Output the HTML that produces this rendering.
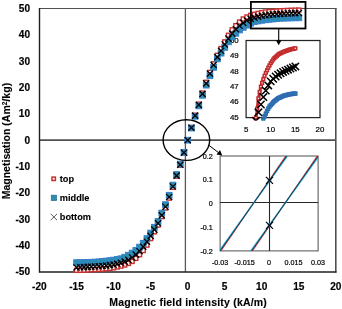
<!DOCTYPE html>
<html><head><meta charset="utf-8"><style>
html,body{margin:0;padding:0;background:#fff;width:342px;height:309px;overflow:hidden}
svg{display:block;will-change:transform}
</style></head><body>
<svg width="342" height="309" viewBox="0 0 342 309">
<rect width="342" height="309" fill="#fff"/>
<g shape-rendering="auto">
<line x1="39" y1="8.5" x2="336.5" y2="8.5" stroke="#505050" stroke-width="1.2"/>
<line x1="335.8" y1="8" x2="335.8" y2="272.5" stroke="#505050" stroke-width="1.6"/>
<line x1="185.4" y1="8" x2="185.4" y2="272" stroke="#5a5a5a" stroke-width="1.3"/>
<line x1="39" y1="140.2" x2="336" y2="140.2" stroke="#505050" stroke-width="1.7"/>
<line x1="39.5" y1="8" x2="39.5" y2="272.6" stroke="#202020" stroke-width="1.4"/>
<line x1="39" y1="271.9" x2="336.5" y2="271.9" stroke="#202020" stroke-width="1.5"/>
</g>
<g style="font-family:'Liberation Sans',sans-serif;font-weight:bold;font-size:10.1px" fill="#000" stroke="#000" stroke-width="0.18" text-anchor="end">
<text transform="translate(30.0,11.80) scale(1,1)">50</text>
<text transform="translate(30.0,38.15) scale(1,1)">40</text>
<text transform="translate(30.0,64.50) scale(1,1)">30</text>
<text transform="translate(30.0,90.85) scale(1,1)">20</text>
<text transform="translate(30.0,117.20) scale(1,1)">10</text>
<text transform="translate(30.0,143.55) scale(1,1)">0</text>
<text transform="translate(30.0,169.90) scale(1,1)">-10</text>
<text transform="translate(30.0,196.25) scale(1,1)">-20</text>
<text transform="translate(30.0,222.60) scale(1,1)">-30</text>
<text transform="translate(30.0,248.95) scale(1,1)">-40</text>
<text transform="translate(30.0,275.30) scale(1,1)">-50</text>
</g>
<g style="font-family:'Liberation Sans',sans-serif;font-weight:bold;font-size:10.1px" fill="#000" stroke="#000" stroke-width="0.18" text-anchor="middle">
<text transform="translate(39.40,289.7) scale(1,1)">-20</text>
<text transform="translate(76.45,289.7) scale(1,1)">-15</text>
<text transform="translate(113.50,289.7) scale(1,1)">-10</text>
<text transform="translate(150.55,289.7) scale(1,1)">-5</text>
<text transform="translate(187.60,289.7) scale(1,1)">0</text>
<text transform="translate(224.65,289.7) scale(1,1)">5</text>
<text transform="translate(261.70,289.7) scale(1,1)">10</text>
<text transform="translate(298.75,289.7) scale(1,1)">15</text>
<text transform="translate(335.80,289.7) scale(1,1)">20</text>
</g>
<text x="188.1" y="305.6" text-anchor="middle" style="font-family:'Liberation Sans',sans-serif;font-weight:bold;font-size:10.5px" stroke="#000" stroke-width="0.12" textLength="157.5" lengthAdjust="spacing">Magnetic field intensity (kA/m)</text>
<text transform="translate(10.4,141.1) rotate(-90)" text-anchor="middle" style="font-family:'Liberation Sans',sans-serif;font-weight:bold;font-size:10.5px" stroke="#000" stroke-width="0.12" textLength="116.5" lengthAdjust="spacing">Magnetisation (Am<tspan font-size="6.6px" dy="-3.6">2</tspan><tspan dy="3.6">/kg)</tspan></text>
<rect x="52.00" y="177.10" width="3.4" height="3.4" fill="#fff" stroke="#C8302F" stroke-width="1.5"/>
<rect x="51.30" y="195.20" width="5.2" height="5.2" fill="#2A8EB0" stroke="#2a7396" stroke-width="0.8"/>
<path d="M50.70 213.80L57.10 220.20M57.10 213.80L50.70 220.20" stroke="#333" stroke-width="0.8" fill="none"/>
<g style="font-family:'Liberation Sans',sans-serif;font-weight:bold;font-size:9.2px" fill="#000" stroke="#000" stroke-width="0.12">
<text x="59.8" y="181.8">top</text>
<text x="59.8" y="201">middle</text>
<text x="59.8" y="220">bottom</text>
</g>
<rect x="246.1" y="40.5" width="73.90" height="77.10" fill="#fff" stroke="#252525" stroke-width="1.25"/>
<g style="font-family:'Liberation Sans',sans-serif;font-size:7.9px" fill="#000" stroke="#000" stroke-width="0.2" text-anchor="end">
<text x="238.7" y="42.80">50</text>
<text x="238.7" y="58.22">49</text>
<text x="238.7" y="73.64">48</text>
<text x="238.7" y="89.06">47</text>
<text x="238.7" y="104.48">46</text>
<text x="238.7" y="119.90">45</text>
</g>
<g style="font-family:'Liberation Sans',sans-serif;font-size:7.9px" fill="#000" stroke="#000" stroke-width="0.2" text-anchor="middle">
<text x="246.10" y="132.3">5</text>
<text x="270.73" y="132.3">10</text>
<text x="295.37" y="132.3">15</text>
<text x="320.00" y="132.3">20</text>
</g>
<clipPath id="c1"><rect x="242.1" y="40.5" width="81.9" height="80.1"/></clipPath>
<g clip-path="url(#c1)">
<polyline points="254.72,127.62 254.97,125.31 255.21,123.00 255.46,120.68 255.71,119.14 255.95,117.60 256.20,116.06 256.45,114.52 256.69,112.97 256.94,110.83 257.19,108.68 257.43,106.54 257.68,104.39 257.92,102.31 258.17,100.32 258.42,98.33 258.66,97.05 258.91,95.77 259.16,94.50 259.40,93.22 259.65,91.95 259.89,90.81 260.14,89.71 260.39,88.61 260.63,87.51 260.88,86.62 261.13,85.87 261.37,85.13 261.62,84.38 261.87,83.63 262.11,82.89 262.36,82.14 262.60,81.39 262.85,80.64 263.10,79.90 263.34,79.15 263.59,78.40 263.84,77.65 264.08,77.00 264.33,76.40 264.57,75.80 264.82,75.20 265.07,74.61 265.31,74.01 265.56,73.41 265.81,72.81 266.05,72.27 266.30,71.77 266.55,71.26 266.79,70.76 267.04,70.26 267.28,69.75 267.53,69.25 267.78,68.75 268.02,68.24 268.27,67.74 268.52,67.27 268.76,66.82 269.01,66.36 269.26,65.91 269.50,65.45 269.75,64.99 269.99,64.54 270.24,64.08 270.49,63.62 270.73,63.17 270.98,62.81 271.23,62.45 271.47,62.10 271.72,61.74 271.96,61.38 272.21,61.03 272.46,60.67 272.70,60.31 272.95,59.96 273.20,59.60 273.44,59.24 273.69,58.89 273.94,58.53 274.18,58.26 274.43,58.03 274.67,57.81 274.92,57.59 275.17,57.37 275.41,57.15 275.66,56.93 275.91,56.71 276.15,56.49 276.40,56.27 276.65,56.05 276.89,55.83 277.14,55.61 277.38,55.39 277.63,55.17 277.88,54.95 278.12,54.73 278.37,54.51 278.62,54.29 278.86,54.07 279.11,53.95 279.36,53.84 279.60,53.72 279.85,53.60 280.09,53.49 280.34,53.37 280.59,53.25 280.83,53.14 281.08,53.02 281.33,52.90 281.57,52.78 281.82,52.67 282.06,52.55 282.31,52.43 282.56,52.32 282.80,52.20 283.05,52.08 283.30,51.97 283.54,51.85 283.79,51.74 284.04,51.65 284.28,51.56 284.53,51.48 284.77,51.39 285.02,51.30 285.27,51.21 285.51,51.13 285.76,51.04 286.01,50.95 286.25,50.86 286.50,50.78 286.75,50.69 286.99,50.60 287.24,50.51 287.48,50.42 287.73,50.34 287.98,50.25 288.22,50.16 288.47,50.07 288.72,49.99 288.96,49.90 289.21,49.81 289.45,49.72 289.70,49.64 289.95,49.55 290.19,49.46 290.44,49.40 290.69,49.35 290.93,49.29 291.18,49.24 291.43,49.18 291.67,49.13 291.92,49.08 292.16,49.02 292.41,48.97 292.66,48.91 292.90,48.86 293.15,48.81 293.40,48.75 293.64,48.70 293.89,48.64 294.13,48.59 294.38,48.53 294.63,48.48 294.87,48.43 295.12,48.37 295.37,48.32" fill="none" stroke="#C22A2C" stroke-width="3.0" stroke-linejoin="round"/>
<rect x="253.37" y="126.27" width="2.7" height="2.7" fill="#fff" stroke="#C22A2C" stroke-width="1.5"/>
<rect x="254.60" y="116.25" width="2.7" height="2.7" fill="#fff" stroke="#C22A2C" stroke-width="1.5"/>
<rect x="255.84" y="107.33" width="2.7" height="2.7" fill="#fff" stroke="#C22A2C" stroke-width="1.5"/>
<rect x="257.07" y="96.98" width="2.7" height="2.7" fill="#fff" stroke="#C22A2C" stroke-width="1.5"/>
<rect x="258.30" y="90.60" width="2.7" height="2.7" fill="#fff" stroke="#C22A2C" stroke-width="1.5"/>
<rect x="259.53" y="85.27" width="2.7" height="2.7" fill="#fff" stroke="#C22A2C" stroke-width="1.5"/>
<rect x="260.76" y="81.54" width="2.7" height="2.7" fill="#fff" stroke="#C22A2C" stroke-width="1.5"/>
<rect x="261.99" y="77.80" width="2.7" height="2.7" fill="#fff" stroke="#C22A2C" stroke-width="1.5"/>
<rect x="263.22" y="74.45" width="2.7" height="2.7" fill="#fff" stroke="#C22A2C" stroke-width="1.5"/>
<rect x="264.46" y="71.46" width="2.7" height="2.7" fill="#fff" stroke="#C22A2C" stroke-width="1.5"/>
<rect x="265.69" y="68.91" width="2.7" height="2.7" fill="#fff" stroke="#C22A2C" stroke-width="1.5"/>
<rect x="266.92" y="66.39" width="2.7" height="2.7" fill="#fff" stroke="#C22A2C" stroke-width="1.5"/>
<rect x="268.15" y="64.10" width="2.7" height="2.7" fill="#fff" stroke="#C22A2C" stroke-width="1.5"/>
<rect x="269.38" y="61.82" width="2.7" height="2.7" fill="#fff" stroke="#C22A2C" stroke-width="1.5"/>
<rect x="270.61" y="60.03" width="2.7" height="2.7" fill="#fff" stroke="#C22A2C" stroke-width="1.5"/>
<rect x="271.85" y="58.25" width="2.7" height="2.7" fill="#fff" stroke="#C22A2C" stroke-width="1.5"/>
<rect x="273.08" y="56.68" width="2.7" height="2.7" fill="#fff" stroke="#C22A2C" stroke-width="1.5"/>
<rect x="274.31" y="55.58" width="2.7" height="2.7" fill="#fff" stroke="#C22A2C" stroke-width="1.5"/>
<rect x="275.54" y="54.48" width="2.7" height="2.7" fill="#fff" stroke="#C22A2C" stroke-width="1.5"/>
<rect x="276.77" y="53.38" width="2.7" height="2.7" fill="#fff" stroke="#C22A2C" stroke-width="1.5"/>
<rect x="278.00" y="52.49" width="2.7" height="2.7" fill="#fff" stroke="#C22A2C" stroke-width="1.5"/>
<rect x="279.24" y="51.90" width="2.7" height="2.7" fill="#fff" stroke="#C22A2C" stroke-width="1.5"/>
<rect x="280.47" y="51.32" width="2.7" height="2.7" fill="#fff" stroke="#C22A2C" stroke-width="1.5"/>
<rect x="281.70" y="50.73" width="2.7" height="2.7" fill="#fff" stroke="#C22A2C" stroke-width="1.5"/>
<rect x="282.93" y="50.21" width="2.7" height="2.7" fill="#fff" stroke="#C22A2C" stroke-width="1.5"/>
<rect x="284.16" y="49.78" width="2.7" height="2.7" fill="#fff" stroke="#C22A2C" stroke-width="1.5"/>
<rect x="285.39" y="49.34" width="2.7" height="2.7" fill="#fff" stroke="#C22A2C" stroke-width="1.5"/>
<rect x="286.63" y="48.90" width="2.7" height="2.7" fill="#fff" stroke="#C22A2C" stroke-width="1.5"/>
<rect x="287.86" y="48.46" width="2.7" height="2.7" fill="#fff" stroke="#C22A2C" stroke-width="1.5"/>
<rect x="289.09" y="48.05" width="2.7" height="2.7" fill="#fff" stroke="#C22A2C" stroke-width="1.5"/>
<rect x="290.32" y="47.78" width="2.7" height="2.7" fill="#fff" stroke="#C22A2C" stroke-width="1.5"/>
<rect x="291.55" y="47.51" width="2.7" height="2.7" fill="#fff" stroke="#C22A2C" stroke-width="1.5"/>
<rect x="292.78" y="47.24" width="2.7" height="2.7" fill="#fff" stroke="#C22A2C" stroke-width="1.5"/>
<rect x="294.02" y="46.97" width="2.7" height="2.7" fill="#fff" stroke="#C22A2C" stroke-width="1.5"/>
<polyline points="261.13,128.38 261.37,127.45 261.62,126.52 261.87,125.59 262.11,124.66 262.36,123.73 262.60,122.80 262.85,121.87 263.10,120.94 263.34,120.02 263.59,119.09 263.84,118.16 264.08,117.38 264.33,116.84 264.57,116.30 264.82,115.76 265.07,115.22 265.31,114.68 265.56,114.14 265.81,113.60 266.05,113.06 266.30,112.51 266.55,111.97 266.79,111.43 267.04,110.97 267.28,110.51 267.53,110.04 267.78,109.58 268.02,109.12 268.27,108.66 268.52,108.19 268.76,107.73 269.01,107.27 269.26,106.81 269.50,106.53 269.75,106.26 269.99,105.99 270.24,105.71 270.49,105.44 270.73,105.17 270.98,104.89 271.23,104.62 271.47,104.35 271.72,104.08 271.96,103.80 272.21,103.53 272.46,103.26 272.70,102.98 272.95,102.71 273.20,102.44 273.44,102.16 273.69,101.89 273.94,101.62 274.18,101.41 274.43,101.22 274.67,101.02 274.92,100.83 275.17,100.64 275.41,100.45 275.66,100.25 275.91,100.06 276.15,99.87 276.40,99.67 276.65,99.48 276.89,99.29 277.14,99.10 277.38,98.90 277.63,98.71 277.88,98.52 278.12,98.33 278.37,98.21 278.62,98.10 278.86,97.99 279.11,97.88 279.36,97.76 279.60,97.65 279.85,97.54 280.09,97.43 280.34,97.32 280.59,97.20 280.83,97.09 281.08,96.98 281.33,96.87 281.57,96.76 281.82,96.64 282.06,96.53 282.31,96.42 282.56,96.31 282.80,96.20 283.05,96.08 283.30,95.97 283.54,95.86 283.79,95.75 284.04,95.67 284.28,95.60 284.53,95.54 284.77,95.48 285.02,95.42 285.27,95.35 285.51,95.29 285.76,95.23 286.01,95.16 286.25,95.10 286.50,95.04 286.75,94.98 286.99,94.91 287.24,94.85 287.48,94.79 287.73,94.73 287.98,94.66 288.22,94.60 288.47,94.54 288.72,94.48 288.96,94.41 289.21,94.35 289.45,94.29 289.70,94.22 289.95,94.16 290.19,94.13 290.44,94.11 290.69,94.08 290.93,94.05 291.18,94.02 291.43,93.99 291.67,93.97 291.92,93.94 292.16,93.91 292.41,93.88 292.66,93.85 292.90,93.83 293.15,93.80 293.40,93.77 293.64,93.74 293.89,93.71 294.13,93.68 294.38,93.66 294.63,93.63 294.87,93.60 295.12,93.57 295.37,93.54" fill="none" stroke="#2A8294" stroke-width="2.8" stroke-linejoin="round"/>
<rect x="260.41" y="122.96" width="3.4" height="3.4" fill="#2A8294" stroke="#3068B8" stroke-width="1.0"/>
<rect x="261.64" y="118.32" width="3.4" height="3.4" fill="#2A8294" stroke="#3068B8" stroke-width="1.0"/>
<rect x="262.88" y="114.60" width="3.4" height="3.4" fill="#2A8294" stroke="#3068B8" stroke-width="1.0"/>
<rect x="264.11" y="111.90" width="3.4" height="3.4" fill="#2A8294" stroke="#3068B8" stroke-width="1.0"/>
<rect x="265.34" y="109.27" width="3.4" height="3.4" fill="#2A8294" stroke="#3068B8" stroke-width="1.0"/>
<rect x="266.57" y="106.96" width="3.4" height="3.4" fill="#2A8294" stroke="#3068B8" stroke-width="1.0"/>
<rect x="267.80" y="104.83" width="3.4" height="3.4" fill="#2A8294" stroke="#3068B8" stroke-width="1.0"/>
<rect x="269.03" y="103.47" width="3.4" height="3.4" fill="#2A8294" stroke="#3068B8" stroke-width="1.0"/>
<rect x="270.26" y="102.10" width="3.4" height="3.4" fill="#2A8294" stroke="#3068B8" stroke-width="1.0"/>
<rect x="271.50" y="100.74" width="3.4" height="3.4" fill="#2A8294" stroke="#3068B8" stroke-width="1.0"/>
<rect x="272.73" y="99.52" width="3.4" height="3.4" fill="#2A8294" stroke="#3068B8" stroke-width="1.0"/>
<rect x="273.96" y="98.55" width="3.4" height="3.4" fill="#2A8294" stroke="#3068B8" stroke-width="1.0"/>
<rect x="275.19" y="97.59" width="3.4" height="3.4" fill="#2A8294" stroke="#3068B8" stroke-width="1.0"/>
<rect x="276.42" y="96.62" width="3.4" height="3.4" fill="#2A8294" stroke="#3068B8" stroke-width="1.0"/>
<rect x="277.66" y="96.06" width="3.4" height="3.4" fill="#2A8294" stroke="#3068B8" stroke-width="1.0"/>
<rect x="278.89" y="95.50" width="3.4" height="3.4" fill="#2A8294" stroke="#3068B8" stroke-width="1.0"/>
<rect x="280.12" y="94.94" width="3.4" height="3.4" fill="#2A8294" stroke="#3068B8" stroke-width="1.0"/>
<rect x="281.35" y="94.38" width="3.4" height="3.4" fill="#2A8294" stroke="#3068B8" stroke-width="1.0"/>
<rect x="282.58" y="93.90" width="3.4" height="3.4" fill="#2A8294" stroke="#3068B8" stroke-width="1.0"/>
<rect x="283.81" y="93.59" width="3.4" height="3.4" fill="#2A8294" stroke="#3068B8" stroke-width="1.0"/>
<rect x="285.05" y="93.28" width="3.4" height="3.4" fill="#2A8294" stroke="#3068B8" stroke-width="1.0"/>
<rect x="286.28" y="92.96" width="3.4" height="3.4" fill="#2A8294" stroke="#3068B8" stroke-width="1.0"/>
<rect x="287.51" y="92.65" width="3.4" height="3.4" fill="#2A8294" stroke="#3068B8" stroke-width="1.0"/>
<rect x="288.74" y="92.41" width="3.4" height="3.4" fill="#2A8294" stroke="#3068B8" stroke-width="1.0"/>
<rect x="289.97" y="92.27" width="3.4" height="3.4" fill="#2A8294" stroke="#3068B8" stroke-width="1.0"/>
<rect x="291.20" y="92.13" width="3.4" height="3.4" fill="#2A8294" stroke="#3068B8" stroke-width="1.0"/>
<rect x="292.44" y="91.98" width="3.4" height="3.4" fill="#2A8294" stroke="#3068B8" stroke-width="1.0"/>
<rect x="293.67" y="91.84" width="3.4" height="3.4" fill="#2A8294" stroke="#3068B8" stroke-width="1.0"/>
<path d="M252.25 117.11L259.65 124.51M259.65 117.11L252.25 124.51" stroke="#000" stroke-width="1.5" fill="none"/>
<path d="M254.72 108.65L262.12 116.05M262.12 108.65L254.72 116.05" stroke="#000" stroke-width="1.5" fill="none"/>
<path d="M257.18 100.79L264.58 108.19M264.58 100.79L257.18 108.19" stroke="#000" stroke-width="1.5" fill="none"/>
<path d="M259.64 93.39L267.04 100.79M267.04 93.39L259.64 100.79" stroke="#000" stroke-width="1.5" fill="none"/>
<path d="M262.11 86.94L269.51 94.34M269.51 86.94L262.11 94.34" stroke="#000" stroke-width="1.5" fill="none"/>
<path d="M264.57 81.75L271.97 89.15M271.97 81.75L264.57 89.15" stroke="#000" stroke-width="1.5" fill="none"/>
<path d="M267.03 77.66L274.43 85.06M274.43 77.66L267.03 85.06" stroke="#000" stroke-width="1.5" fill="none"/>
<path d="M269.50 75.06L276.90 82.46M276.90 75.06L269.50 82.46" stroke="#000" stroke-width="1.5" fill="none"/>
<path d="M271.96 72.81L279.36 80.21M279.36 72.81L271.96 80.21" stroke="#000" stroke-width="1.5" fill="none"/>
<path d="M274.42 71.07L281.82 78.47M281.82 71.07L274.42 78.47" stroke="#000" stroke-width="1.5" fill="none"/>
<path d="M276.89 69.61L284.29 77.01M284.29 69.61L276.89 77.01" stroke="#000" stroke-width="1.5" fill="none"/>
<path d="M279.35 68.23L286.75 75.63M286.75 68.23L279.35 75.63" stroke="#000" stroke-width="1.5" fill="none"/>
<path d="M281.81 67.07L289.21 74.47M289.21 67.07L281.81 74.47" stroke="#000" stroke-width="1.5" fill="none"/>
<path d="M284.28 65.97L291.68 73.37M291.68 65.97L284.28 73.37" stroke="#000" stroke-width="1.5" fill="none"/>
<path d="M286.74 64.86L294.14 72.26M294.14 64.86L286.74 72.26" stroke="#000" stroke-width="1.5" fill="none"/>
<path d="M289.20 63.78L296.60 71.19M296.60 63.78L289.20 71.19" stroke="#000" stroke-width="1.5" fill="none"/>
<path d="M291.67 62.71L299.07 70.11M299.07 62.71L291.67 70.11" stroke="#000" stroke-width="1.5" fill="none"/>
</g>
<rect x="220.1" y="156.0" width="98.00" height="94.90" fill="#fff" stroke="#505050" stroke-width="1"/>
<line x1="220.1" y1="202.5" x2="318.1" y2="202.5" stroke="#262626" stroke-width="1.1"/>
<line x1="269.5" y1="156.0" x2="269.5" y2="250.9" stroke="#262626" stroke-width="1.1"/>
<g style="font-family:'Liberation Sans',sans-serif;font-size:7.2px" fill="#000" stroke="#000" stroke-width="0.2" text-anchor="end">
<text x="212.8" y="158.60">0.2</text>
<text x="212.8" y="182.32">0.1</text>
<text x="212.8" y="206.05">0</text>
<text x="212.8" y="229.78">-0.1</text>
<text x="212.8" y="253.50">-0.2</text>
</g>
<g style="font-family:'Liberation Sans',sans-serif;font-size:7.2px" fill="#000" stroke="#000" stroke-width="0.2" text-anchor="middle">
<text x="220.10" y="264.8">-0.03</text>
<text x="244.60" y="264.8">-0.015</text>
<text x="269.10" y="264.8">0</text>
<text x="293.60" y="264.8">0.015</text>
<text x="318.10" y="264.8">0.03</text>
</g>
<clipPath id="c2"><rect x="220.1" y="156.0" width="98.00" height="94.90"/></clipPath>
<g clip-path="url(#c2)" fill="none" stroke-linecap="butt">
<line x1="219.50" y1="252.90" x2="287.20" y2="154.00" stroke="#D42A24" stroke-width="1.1"/>
<line x1="217.90" y1="252.90" x2="288.80" y2="154.00" stroke="#22A6D6" stroke-width="1.4"/>
<line x1="218.70" y1="252.90" x2="288.00" y2="154.00" stroke="#173f58" stroke-width="1.0"/>
<line x1="251.00" y1="252.90" x2="318.70" y2="154.00" stroke="#D42A24" stroke-width="1.1"/>
<line x1="249.40" y1="252.90" x2="320.30" y2="154.00" stroke="#22A6D6" stroke-width="1.4"/>
<line x1="250.20" y1="252.90" x2="319.50" y2="154.00" stroke="#173f58" stroke-width="1.0"/>
</g>
<rect x="268.00" y="178.90" width="3.0" height="3.0" fill="#3d8fd6" stroke="#3d8fd6" stroke-width="0.5"/>
<path d="M266.00 176.90L273.00 183.90M273.00 176.90L266.00 183.90" stroke="#000" stroke-width="1.2" fill="none"/>
<rect x="268.00" y="223.86" width="3.0" height="3.0" fill="#3d8fd6" stroke="#3d8fd6" stroke-width="0.5"/>
<path d="M266.00 221.86L273.00 228.86M273.00 221.86L266.00 228.86" stroke="#000" stroke-width="1.2" fill="none"/>
<rect x="74.55" y="268.33" width="4.0" height="4.0" fill="#fff" stroke="#C8302F" stroke-width="1.4"/>
<rect x="78.25" y="268.23" width="4.0" height="4.0" fill="#fff" stroke="#C8302F" stroke-width="1.4"/>
<rect x="81.96" y="268.13" width="4.0" height="4.0" fill="#fff" stroke="#C8302F" stroke-width="1.4"/>
<rect x="85.66" y="267.96" width="4.0" height="4.0" fill="#fff" stroke="#C8302F" stroke-width="1.4"/>
<rect x="89.37" y="267.78" width="4.0" height="4.0" fill="#fff" stroke="#C8302F" stroke-width="1.4"/>
<rect x="93.07" y="267.59" width="4.0" height="4.0" fill="#fff" stroke="#C8302F" stroke-width="1.4"/>
<rect x="96.78" y="267.38" width="4.0" height="4.0" fill="#fff" stroke="#C8302F" stroke-width="1.4"/>
<rect x="100.48" y="267.13" width="4.0" height="4.0" fill="#fff" stroke="#C8302F" stroke-width="1.4"/>
<rect x="104.19" y="266.81" width="4.0" height="4.0" fill="#fff" stroke="#C8302F" stroke-width="1.4"/>
<rect x="107.89" y="266.40" width="4.0" height="4.0" fill="#fff" stroke="#C8302F" stroke-width="1.4"/>
<rect x="111.60" y="265.81" width="4.0" height="4.0" fill="#fff" stroke="#C8302F" stroke-width="1.4"/>
<rect x="115.30" y="265.00" width="4.0" height="4.0" fill="#fff" stroke="#C8302F" stroke-width="1.4"/>
<rect x="119.01" y="264.13" width="4.0" height="4.0" fill="#fff" stroke="#C8302F" stroke-width="1.4"/>
<rect x="122.71" y="263.02" width="4.0" height="4.0" fill="#fff" stroke="#C8302F" stroke-width="1.4"/>
<rect x="126.42" y="261.42" width="4.0" height="4.0" fill="#fff" stroke="#C8302F" stroke-width="1.4"/>
<rect x="130.12" y="259.44" width="4.0" height="4.0" fill="#fff" stroke="#C8302F" stroke-width="1.4"/>
<rect x="133.83" y="256.38" width="4.0" height="4.0" fill="#fff" stroke="#C8302F" stroke-width="1.4"/>
<rect x="137.53" y="252.75" width="4.0" height="4.0" fill="#fff" stroke="#C8302F" stroke-width="1.4"/>
<rect x="141.24" y="248.56" width="4.0" height="4.0" fill="#fff" stroke="#C8302F" stroke-width="1.4"/>
<rect x="144.94" y="243.14" width="4.0" height="4.0" fill="#fff" stroke="#C8302F" stroke-width="1.4"/>
<rect x="148.65" y="236.56" width="4.0" height="4.0" fill="#fff" stroke="#C8302F" stroke-width="1.4"/>
<rect x="152.35" y="229.86" width="4.0" height="4.0" fill="#fff" stroke="#C8302F" stroke-width="1.4"/>
<rect x="156.06" y="223.15" width="4.0" height="4.0" fill="#fff" stroke="#C8302F" stroke-width="1.4"/>
<rect x="159.76" y="214.60" width="4.0" height="4.0" fill="#fff" stroke="#C8302F" stroke-width="1.4"/>
<rect x="163.47" y="206.06" width="4.0" height="4.0" fill="#fff" stroke="#C8302F" stroke-width="1.4"/>
<rect x="167.17" y="196.11" width="4.0" height="4.0" fill="#fff" stroke="#C8302F" stroke-width="1.4"/>
<rect x="170.88" y="185.37" width="4.0" height="4.0" fill="#fff" stroke="#C8302F" stroke-width="1.4"/>
<rect x="174.58" y="174.23" width="4.0" height="4.0" fill="#fff" stroke="#C8302F" stroke-width="1.4"/>
<rect x="178.29" y="163.23" width="4.0" height="4.0" fill="#fff" stroke="#C8302F" stroke-width="1.4"/>
<rect x="181.99" y="150.91" width="4.0" height="4.0" fill="#fff" stroke="#C8302F" stroke-width="1.4"/>
<rect x="185.70" y="138.20" width="4.0" height="4.0" fill="#fff" stroke="#C8302F" stroke-width="1.4"/>
<rect x="189.41" y="125.49" width="4.0" height="4.0" fill="#fff" stroke="#C8302F" stroke-width="1.4"/>
<rect x="193.11" y="113.17" width="4.0" height="4.0" fill="#fff" stroke="#C8302F" stroke-width="1.4"/>
<rect x="196.81" y="102.17" width="4.0" height="4.0" fill="#fff" stroke="#C8302F" stroke-width="1.4"/>
<rect x="200.52" y="91.03" width="4.0" height="4.0" fill="#fff" stroke="#C8302F" stroke-width="1.4"/>
<rect x="204.22" y="80.29" width="4.0" height="4.0" fill="#fff" stroke="#C8302F" stroke-width="1.4"/>
<rect x="207.93" y="70.34" width="4.0" height="4.0" fill="#fff" stroke="#C8302F" stroke-width="1.4"/>
<rect x="211.63" y="61.80" width="4.0" height="4.0" fill="#fff" stroke="#C8302F" stroke-width="1.4"/>
<rect x="215.34" y="53.25" width="4.0" height="4.0" fill="#fff" stroke="#C8302F" stroke-width="1.4"/>
<rect x="219.04" y="46.54" width="4.0" height="4.0" fill="#fff" stroke="#C8302F" stroke-width="1.4"/>
<rect x="222.75" y="39.84" width="4.0" height="4.0" fill="#fff" stroke="#C8302F" stroke-width="1.4"/>
<rect x="226.45" y="33.26" width="4.0" height="4.0" fill="#fff" stroke="#C8302F" stroke-width="1.4"/>
<rect x="230.16" y="27.84" width="4.0" height="4.0" fill="#fff" stroke="#C8302F" stroke-width="1.4"/>
<rect x="233.86" y="23.65" width="4.0" height="4.0" fill="#fff" stroke="#C8302F" stroke-width="1.4"/>
<rect x="237.57" y="20.02" width="4.0" height="4.0" fill="#fff" stroke="#C8302F" stroke-width="1.4"/>
<rect x="241.27" y="16.96" width="4.0" height="4.0" fill="#fff" stroke="#C8302F" stroke-width="1.4"/>
<rect x="244.98" y="14.98" width="4.0" height="4.0" fill="#fff" stroke="#C8302F" stroke-width="1.4"/>
<rect x="248.69" y="13.38" width="4.0" height="4.0" fill="#fff" stroke="#C8302F" stroke-width="1.4"/>
<rect x="252.39" y="12.27" width="4.0" height="4.0" fill="#fff" stroke="#C8302F" stroke-width="1.4"/>
<rect x="256.09" y="11.40" width="4.0" height="4.0" fill="#fff" stroke="#C8302F" stroke-width="1.4"/>
<rect x="259.80" y="10.59" width="4.0" height="4.0" fill="#fff" stroke="#C8302F" stroke-width="1.4"/>
<rect x="263.50" y="10.00" width="4.0" height="4.0" fill="#fff" stroke="#C8302F" stroke-width="1.4"/>
<rect x="267.21" y="9.59" width="4.0" height="4.0" fill="#fff" stroke="#C8302F" stroke-width="1.4"/>
<rect x="270.91" y="9.27" width="4.0" height="4.0" fill="#fff" stroke="#C8302F" stroke-width="1.4"/>
<rect x="274.62" y="9.02" width="4.0" height="4.0" fill="#fff" stroke="#C8302F" stroke-width="1.4"/>
<rect x="278.32" y="8.81" width="4.0" height="4.0" fill="#fff" stroke="#C8302F" stroke-width="1.4"/>
<rect x="282.03" y="8.62" width="4.0" height="4.0" fill="#fff" stroke="#C8302F" stroke-width="1.4"/>
<rect x="285.74" y="8.44" width="4.0" height="4.0" fill="#fff" stroke="#C8302F" stroke-width="1.4"/>
<rect x="289.44" y="8.27" width="4.0" height="4.0" fill="#fff" stroke="#C8302F" stroke-width="1.4"/>
<rect x="293.14" y="8.17" width="4.0" height="4.0" fill="#fff" stroke="#C8302F" stroke-width="1.4"/>
<rect x="296.85" y="8.07" width="4.0" height="4.0" fill="#fff" stroke="#C8302F" stroke-width="1.4"/>
<rect x="73.70" y="259.78" width="5.7" height="5.7" fill="#2A8EB0" stroke="#3780CC" stroke-width="1.0"/>
<rect x="77.40" y="259.72" width="5.7" height="5.7" fill="#2A8EB0" stroke="#3780CC" stroke-width="1.0"/>
<rect x="81.11" y="259.66" width="5.7" height="5.7" fill="#2A8EB0" stroke="#3780CC" stroke-width="1.0"/>
<rect x="84.81" y="259.54" width="5.7" height="5.7" fill="#2A8EB0" stroke="#3780CC" stroke-width="1.0"/>
<rect x="88.52" y="259.40" width="5.7" height="5.7" fill="#2A8EB0" stroke="#3780CC" stroke-width="1.0"/>
<rect x="92.22" y="259.26" width="5.7" height="5.7" fill="#2A8EB0" stroke="#3780CC" stroke-width="1.0"/>
<rect x="95.93" y="258.93" width="5.7" height="5.7" fill="#2A8EB0" stroke="#3780CC" stroke-width="1.0"/>
<rect x="99.63" y="258.57" width="5.7" height="5.7" fill="#2A8EB0" stroke="#3780CC" stroke-width="1.0"/>
<rect x="103.34" y="258.21" width="5.7" height="5.7" fill="#2A8EB0" stroke="#3780CC" stroke-width="1.0"/>
<rect x="107.04" y="257.74" width="5.7" height="5.7" fill="#2A8EB0" stroke="#3780CC" stroke-width="1.0"/>
<rect x="110.75" y="257.26" width="5.7" height="5.7" fill="#2A8EB0" stroke="#3780CC" stroke-width="1.0"/>
<rect x="114.45" y="256.58" width="5.7" height="5.7" fill="#2A8EB0" stroke="#3780CC" stroke-width="1.0"/>
<rect x="118.16" y="255.87" width="5.7" height="5.7" fill="#2A8EB0" stroke="#3780CC" stroke-width="1.0"/>
<rect x="121.86" y="254.35" width="5.7" height="5.7" fill="#2A8EB0" stroke="#3780CC" stroke-width="1.0"/>
<rect x="125.57" y="252.35" width="5.7" height="5.7" fill="#2A8EB0" stroke="#3780CC" stroke-width="1.0"/>
<rect x="129.28" y="250.18" width="5.7" height="5.7" fill="#2A8EB0" stroke="#3780CC" stroke-width="1.0"/>
<rect x="132.98" y="247.55" width="5.7" height="5.7" fill="#2A8EB0" stroke="#3780CC" stroke-width="1.0"/>
<rect x="136.69" y="244.26" width="5.7" height="5.7" fill="#2A8EB0" stroke="#3780CC" stroke-width="1.0"/>
<rect x="140.39" y="240.45" width="5.7" height="5.7" fill="#2A8EB0" stroke="#3780CC" stroke-width="1.0"/>
<rect x="144.09" y="235.71" width="5.7" height="5.7" fill="#2A8EB0" stroke="#3780CC" stroke-width="1.0"/>
<rect x="147.80" y="230.19" width="5.7" height="5.7" fill="#2A8EB0" stroke="#3780CC" stroke-width="1.0"/>
<rect x="151.50" y="224.40" width="5.7" height="5.7" fill="#2A8EB0" stroke="#3780CC" stroke-width="1.0"/>
<rect x="155.21" y="218.62" width="5.7" height="5.7" fill="#2A8EB0" stroke="#3780CC" stroke-width="1.0"/>
<rect x="158.91" y="210.20" width="5.7" height="5.7" fill="#2A8EB0" stroke="#3780CC" stroke-width="1.0"/>
<rect x="162.62" y="201.78" width="5.7" height="5.7" fill="#2A8EB0" stroke="#3780CC" stroke-width="1.0"/>
<rect x="166.32" y="192.40" width="5.7" height="5.7" fill="#2A8EB0" stroke="#3780CC" stroke-width="1.0"/>
<rect x="170.03" y="182.23" width="5.7" height="5.7" fill="#2A8EB0" stroke="#3780CC" stroke-width="1.0"/>
<rect x="173.73" y="171.67" width="5.7" height="5.7" fill="#2A8EB0" stroke="#3780CC" stroke-width="1.0"/>
<rect x="177.44" y="161.24" width="5.7" height="5.7" fill="#2A8EB0" stroke="#3780CC" stroke-width="1.0"/>
<rect x="181.14" y="149.49" width="5.7" height="5.7" fill="#2A8EB0" stroke="#3780CC" stroke-width="1.0"/>
<rect x="184.85" y="137.35" width="5.7" height="5.7" fill="#2A8EB0" stroke="#3780CC" stroke-width="1.0"/>
<rect x="188.56" y="125.21" width="5.7" height="5.7" fill="#2A8EB0" stroke="#3780CC" stroke-width="1.0"/>
<rect x="192.26" y="113.46" width="5.7" height="5.7" fill="#2A8EB0" stroke="#3780CC" stroke-width="1.0"/>
<rect x="195.97" y="103.03" width="5.7" height="5.7" fill="#2A8EB0" stroke="#3780CC" stroke-width="1.0"/>
<rect x="199.67" y="92.47" width="5.7" height="5.7" fill="#2A8EB0" stroke="#3780CC" stroke-width="1.0"/>
<rect x="203.38" y="82.30" width="5.7" height="5.7" fill="#2A8EB0" stroke="#3780CC" stroke-width="1.0"/>
<rect x="207.08" y="72.92" width="5.7" height="5.7" fill="#2A8EB0" stroke="#3780CC" stroke-width="1.0"/>
<rect x="210.78" y="64.50" width="5.7" height="5.7" fill="#2A8EB0" stroke="#3780CC" stroke-width="1.0"/>
<rect x="214.49" y="56.08" width="5.7" height="5.7" fill="#2A8EB0" stroke="#3780CC" stroke-width="1.0"/>
<rect x="218.19" y="50.30" width="5.7" height="5.7" fill="#2A8EB0" stroke="#3780CC" stroke-width="1.0"/>
<rect x="221.90" y="44.51" width="5.7" height="5.7" fill="#2A8EB0" stroke="#3780CC" stroke-width="1.0"/>
<rect x="225.60" y="38.99" width="5.7" height="5.7" fill="#2A8EB0" stroke="#3780CC" stroke-width="1.0"/>
<rect x="229.31" y="34.25" width="5.7" height="5.7" fill="#2A8EB0" stroke="#3780CC" stroke-width="1.0"/>
<rect x="233.01" y="30.44" width="5.7" height="5.7" fill="#2A8EB0" stroke="#3780CC" stroke-width="1.0"/>
<rect x="236.72" y="27.15" width="5.7" height="5.7" fill="#2A8EB0" stroke="#3780CC" stroke-width="1.0"/>
<rect x="240.42" y="24.52" width="5.7" height="5.7" fill="#2A8EB0" stroke="#3780CC" stroke-width="1.0"/>
<rect x="244.13" y="22.35" width="5.7" height="5.7" fill="#2A8EB0" stroke="#3780CC" stroke-width="1.0"/>
<rect x="247.84" y="20.35" width="5.7" height="5.7" fill="#2A8EB0" stroke="#3780CC" stroke-width="1.0"/>
<rect x="251.54" y="18.83" width="5.7" height="5.7" fill="#2A8EB0" stroke="#3780CC" stroke-width="1.0"/>
<rect x="255.24" y="18.12" width="5.7" height="5.7" fill="#2A8EB0" stroke="#3780CC" stroke-width="1.0"/>
<rect x="258.95" y="17.44" width="5.7" height="5.7" fill="#2A8EB0" stroke="#3780CC" stroke-width="1.0"/>
<rect x="262.65" y="16.96" width="5.7" height="5.7" fill="#2A8EB0" stroke="#3780CC" stroke-width="1.0"/>
<rect x="266.36" y="16.49" width="5.7" height="5.7" fill="#2A8EB0" stroke="#3780CC" stroke-width="1.0"/>
<rect x="270.06" y="16.13" width="5.7" height="5.7" fill="#2A8EB0" stroke="#3780CC" stroke-width="1.0"/>
<rect x="273.77" y="15.77" width="5.7" height="5.7" fill="#2A8EB0" stroke="#3780CC" stroke-width="1.0"/>
<rect x="277.47" y="15.44" width="5.7" height="5.7" fill="#2A8EB0" stroke="#3780CC" stroke-width="1.0"/>
<rect x="281.18" y="15.30" width="5.7" height="5.7" fill="#2A8EB0" stroke="#3780CC" stroke-width="1.0"/>
<rect x="284.88" y="15.16" width="5.7" height="5.7" fill="#2A8EB0" stroke="#3780CC" stroke-width="1.0"/>
<rect x="288.59" y="15.04" width="5.7" height="5.7" fill="#2A8EB0" stroke="#3780CC" stroke-width="1.0"/>
<rect x="292.29" y="14.98" width="5.7" height="5.7" fill="#2A8EB0" stroke="#3780CC" stroke-width="1.0"/>
<rect x="296.00" y="14.92" width="5.7" height="5.7" fill="#2A8EB0" stroke="#3780CC" stroke-width="1.0"/>
<path d="M73.45 264.34L79.65 270.54M79.65 264.34L73.45 270.54" stroke="#000" stroke-width="1.3" fill="none"/>
<path d="M77.15 264.17L83.35 270.37M83.35 264.17L77.15 270.37" stroke="#000" stroke-width="1.3" fill="none"/>
<path d="M80.86 264.00L87.06 270.20M87.06 264.00L80.86 270.20" stroke="#000" stroke-width="1.3" fill="none"/>
<path d="M84.56 263.80L90.76 270.00M90.76 263.80L84.56 270.00" stroke="#000" stroke-width="1.3" fill="none"/>
<path d="M88.27 263.60L94.47 269.80M94.47 263.60L88.27 269.80" stroke="#000" stroke-width="1.3" fill="none"/>
<path d="M91.97 263.41L98.17 269.61M98.17 263.41L91.97 269.61" stroke="#000" stroke-width="1.3" fill="none"/>
<path d="M95.68 263.21L101.88 269.41M101.88 263.21L95.68 269.41" stroke="#000" stroke-width="1.3" fill="none"/>
<path d="M99.38 262.88L105.58 269.08M105.58 262.88L99.38 269.08" stroke="#000" stroke-width="1.3" fill="none"/>
<path d="M103.09 262.55L109.29 268.75M109.29 262.55L103.09 268.75" stroke="#000" stroke-width="1.3" fill="none"/>
<path d="M106.79 262.02L112.99 268.23M112.99 262.02L106.79 268.23" stroke="#000" stroke-width="1.3" fill="none"/>
<path d="M110.50 261.50L116.70 267.70M116.70 261.50L110.50 267.70" stroke="#000" stroke-width="1.3" fill="none"/>
<path d="M114.20 260.71L120.40 266.91M120.40 260.71L114.20 266.91" stroke="#000" stroke-width="1.3" fill="none"/>
<path d="M117.91 259.71L124.11 265.91M124.11 259.71L117.91 265.91" stroke="#000" stroke-width="1.3" fill="none"/>
<path d="M121.61 258.47L127.81 264.67M127.81 258.47L121.61 264.67" stroke="#000" stroke-width="1.3" fill="none"/>
<path d="M125.32 256.76L131.52 262.97M131.52 256.76L125.32 262.97" stroke="#000" stroke-width="1.3" fill="none"/>
<path d="M129.03 254.40L135.22 260.60M135.22 254.40L129.03 260.60" stroke="#000" stroke-width="1.3" fill="none"/>
<path d="M132.73 251.50L138.93 257.70M138.93 251.50L132.73 257.70" stroke="#000" stroke-width="1.3" fill="none"/>
<path d="M136.44 248.09L142.63 254.29M142.63 248.09L136.44 254.29" stroke="#000" stroke-width="1.3" fill="none"/>
<path d="M140.14 243.61L146.34 249.81M146.34 243.61L140.14 249.81" stroke="#000" stroke-width="1.3" fill="none"/>
<path d="M143.84 238.62L150.04 244.82M150.04 238.62L143.84 244.82" stroke="#000" stroke-width="1.3" fill="none"/>
<path d="M147.55 232.83L153.75 239.03M153.75 232.83L147.55 239.03" stroke="#000" stroke-width="1.3" fill="none"/>
<path d="M151.25 226.52L157.45 232.72M157.45 226.52L151.25 232.72" stroke="#000" stroke-width="1.3" fill="none"/>
<path d="M154.96 220.21L161.16 226.41M161.16 220.21L154.96 226.41" stroke="#000" stroke-width="1.3" fill="none"/>
<path d="M158.66 212.32L164.86 218.52M164.86 212.32L158.66 218.52" stroke="#000" stroke-width="1.3" fill="none"/>
<path d="M162.37 203.64L168.57 209.84M168.57 203.64L162.37 209.84" stroke="#000" stroke-width="1.3" fill="none"/>
<path d="M166.07 193.91L172.27 200.11M172.27 193.91L166.07 200.11" stroke="#000" stroke-width="1.3" fill="none"/>
<path d="M169.78 183.39L175.98 189.59M175.98 183.39L169.78 189.59" stroke="#000" stroke-width="1.3" fill="none"/>
<path d="M173.48 172.47L179.68 178.67M179.68 172.47L173.48 178.67" stroke="#000" stroke-width="1.3" fill="none"/>
<path d="M177.19 161.69L183.39 167.89M183.39 161.69L177.19 167.89" stroke="#000" stroke-width="1.3" fill="none"/>
<path d="M180.89 149.59L187.09 155.79M187.09 149.59L180.89 155.79" stroke="#000" stroke-width="1.3" fill="none"/>
<path d="M184.60 137.10L190.80 143.30M190.80 137.10L184.60 143.30" stroke="#000" stroke-width="1.3" fill="none"/>
<path d="M188.31 124.61L194.50 130.81M194.50 124.61L188.31 130.81" stroke="#000" stroke-width="1.3" fill="none"/>
<path d="M192.01 112.51L198.21 118.71M198.21 112.51L192.01 118.71" stroke="#000" stroke-width="1.3" fill="none"/>
<path d="M195.72 101.73L201.91 107.93M201.91 101.73L195.72 107.93" stroke="#000" stroke-width="1.3" fill="none"/>
<path d="M199.42 90.81L205.62 97.01M205.62 90.81L199.42 97.01" stroke="#000" stroke-width="1.3" fill="none"/>
<path d="M203.12 80.29L209.32 86.49M209.32 80.29L203.12 86.49" stroke="#000" stroke-width="1.3" fill="none"/>
<path d="M206.83 70.56L213.03 76.76M213.03 70.56L206.83 76.76" stroke="#000" stroke-width="1.3" fill="none"/>
<path d="M210.53 61.88L216.73 68.08M216.73 61.88L210.53 68.08" stroke="#000" stroke-width="1.3" fill="none"/>
<path d="M214.24 53.99L220.44 60.19M220.44 53.99L214.24 60.19" stroke="#000" stroke-width="1.3" fill="none"/>
<path d="M217.94 47.68L224.14 53.88M224.14 47.68L217.94 53.88" stroke="#000" stroke-width="1.3" fill="none"/>
<path d="M221.65 41.37L227.85 47.57M227.85 41.37L221.65 47.57" stroke="#000" stroke-width="1.3" fill="none"/>
<path d="M225.35 35.58L231.55 41.78M231.55 35.58L225.35 41.78" stroke="#000" stroke-width="1.3" fill="none"/>
<path d="M229.06 30.58L235.26 36.78M235.26 30.58L229.06 36.78" stroke="#000" stroke-width="1.3" fill="none"/>
<path d="M232.76 26.11L238.96 32.31M238.96 26.11L232.76 32.31" stroke="#000" stroke-width="1.3" fill="none"/>
<path d="M236.47 22.69L242.67 28.89M242.67 22.69L236.47 28.89" stroke="#000" stroke-width="1.3" fill="none"/>
<path d="M240.17 19.80L246.37 26.00M246.37 19.80L240.17 26.00" stroke="#000" stroke-width="1.3" fill="none"/>
<path d="M243.88 17.43L250.08 23.63M250.08 17.43L243.88 23.63" stroke="#000" stroke-width="1.3" fill="none"/>
<path d="M247.59 15.73L253.78 21.93M253.78 15.73L247.59 21.93" stroke="#000" stroke-width="1.3" fill="none"/>
<path d="M251.29 14.49L257.49 20.69M257.49 14.49L251.29 20.69" stroke="#000" stroke-width="1.3" fill="none"/>
<path d="M254.99 13.49L261.19 19.69M261.19 13.49L254.99 19.69" stroke="#000" stroke-width="1.3" fill="none"/>
<path d="M258.70 12.70L264.90 18.90M264.90 12.70L258.70 18.90" stroke="#000" stroke-width="1.3" fill="none"/>
<path d="M262.40 12.17L268.61 18.37M268.61 12.17L262.40 18.37" stroke="#000" stroke-width="1.3" fill="none"/>
<path d="M266.11 11.65L272.31 17.85M272.31 11.65L266.11 17.85" stroke="#000" stroke-width="1.3" fill="none"/>
<path d="M269.81 11.32L276.01 17.52M276.01 11.32L269.81 17.52" stroke="#000" stroke-width="1.3" fill="none"/>
<path d="M273.52 10.99L279.72 17.19M279.72 10.99L273.52 17.19" stroke="#000" stroke-width="1.3" fill="none"/>
<path d="M277.22 10.79L283.43 16.99M283.43 10.79L277.22 16.99" stroke="#000" stroke-width="1.3" fill="none"/>
<path d="M280.93 10.60L287.13 16.80M287.13 10.60L280.93 16.80" stroke="#000" stroke-width="1.3" fill="none"/>
<path d="M284.63 10.40L290.84 16.60M290.84 10.40L284.63 16.60" stroke="#000" stroke-width="1.3" fill="none"/>
<path d="M288.34 10.20L294.54 16.40M294.54 10.20L288.34 16.40" stroke="#000" stroke-width="1.3" fill="none"/>
<path d="M292.04 10.03L298.25 16.23M298.25 10.03L292.04 16.23" stroke="#000" stroke-width="1.3" fill="none"/>
<path d="M295.75 9.86L301.95 16.06M301.95 9.86L295.75 16.06" stroke="#000" stroke-width="1.3" fill="none"/>
<rect x="250.9" y="1.9" width="54.6" height="26.6" fill="none" stroke="#000" stroke-width="1.8"/>
<line x1="278.7" y1="28.5" x2="278.7" y2="41" stroke="#000" stroke-width="1.1"/>
<path d="M275.9 40.2L281.5 40.2L278.7 45.2Z" fill="#000"/>
<ellipse cx="186.4" cy="140.1" rx="23.3" ry="20.3" fill="none" stroke="#000" stroke-width="1.4"/>
<line x1="208.5" y1="145" x2="218.5" y2="152.6" stroke="#000" stroke-width="1"/>
<path d="M216.5 154.6L220 150L222.3 155.5Z" fill="#000"/>
</svg>
</body></html>
